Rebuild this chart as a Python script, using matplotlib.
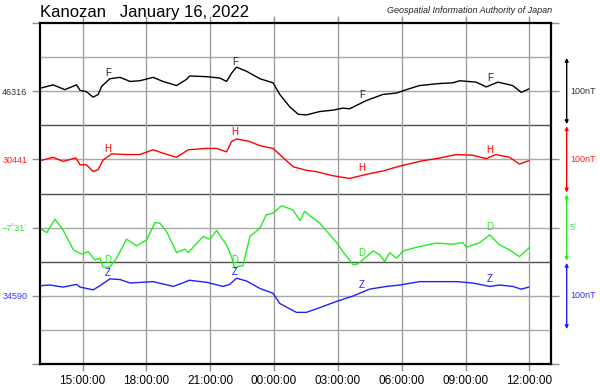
import numpy as np
import matplotlib
matplotlib.use('Agg')
import matplotlib.pyplot as plt
import matplotlib.dates as mdates
from matplotlib.transforms import blended_transform_factory

plt.rcParams['font.family'] = ['Liberation Sans', 'DejaVu Sans']

# ---------------- data ----------------
station = "Kanozan"
date_label = "January 16, 2022"
credit = "Geospatial Information Authority of Japan"
start_time = np.datetime64('2022-01-15T13:00')

# hours since 2022-01-15 13:00
f_hours = [0.00, 0.61, 1.17, 1.72, 1.88, 2.19, 2.50, 2.74, 2.90, 3.29, 3.76, 4.23, 4.69, 5.32,
           5.79, 6.42, 6.89, 7.04, 7.83, 8.45, 8.77, 9.00, 9.23, 9.70, 10.33, 10.95, 11.27,
           11.74, 12.13, 12.52, 13.15, 13.77, 14.24, 14.55, 15.34, 16.12, 16.75, 17.22, 17.84,
           18.78, 19.40, 19.72, 20.50, 20.97, 21.52, 22.22, 22.62, 22.97]
f_nt = [46320, 46325, 46318, 46325, 46317, 46315, 46307, 46311, 46323, 46334, 46336, 46330,
        46331, 46336, 46330, 46324, 46333, 46338, 46337, 46335, 46330, 46342, 46351, 46345,
        46334, 46328, 46311, 46293, 46282, 46281, 46286, 46288, 46291, 46290, 46302, 46311,
        46313, 46318, 46324, 46327, 46328, 46331, 46329, 46322, 46329, 46324, 46314, 46319]

h_hours = [0.00, 0.62, 1.09, 1.69, 1.88, 2.19, 2.50, 2.74, 2.97, 3.37, 4.07, 4.69, 5.32, 5.79,
           6.42, 6.96, 7.83, 8.30, 8.77, 9.00, 9.23, 9.86, 10.33, 10.95, 11.27, 11.90, 12.52,
           12.99, 13.77, 14.55, 15.34, 16.12, 16.90, 17.84, 18.78, 19.56, 20.34, 20.97, 21.44,
           22.07, 22.54, 22.97]
h_nt = [30439, 30444, 30438, 30443, 30433, 30433, 30423, 30426, 30440, 30449, 30448, 30448,
        30455, 30450, 30444, 30455, 30457, 30457, 30452, 30467, 30471, 30467, 30461, 30457,
        30448, 30430, 30425, 30423, 30417, 30413, 30419, 30424, 30431, 30438, 30443, 30448,
        30447, 30442, 30448, 30444, 30434, 30439]

d_hours = [0.00, 0.31, 0.70, 1.09, 1.56, 1.96, 2.27, 2.58, 2.82, 2.97, 3.29, 3.60, 4.07, 4.54,
           5.01, 5.40, 5.63, 5.95, 6.42, 6.81, 6.96, 7.67, 7.98, 8.30, 8.77, 9.00, 9.15, 9.39,
           9.54, 9.86, 10.33, 10.64, 10.95, 11.35, 11.89, 12.21, 12.44, 13.15, 13.93, 14.24,
           14.71, 14.94, 15.26, 15.65, 15.96, 16.20, 16.43, 16.75, 17.06, 17.84, 18.62, 19.40,
           19.87, 20.03, 20.66, 21.13, 21.60, 22.07, 22.54, 22.97]
d_arcmin = [-451.04, -451.36, -450.38, -451.16, -452.63, -452.94, -452.75, -453.36, -453.23,
            -453.89, -453.89, -453.23, -451.84, -452.33, -451.89, -450.63, -450.67, -451.29,
            -452.82, -452.57, -452.82, -451.65, -451.84, -451.21, -452.26, -453.12, -453.96,
            -453.80, -453.80, -451.65, -451.04, -450.06, -449.94, -449.40, -449.70, -450.48,
            -449.82, -450.67, -452.09, -452.75, -453.72, -453.65, -453.23, -452.70, -452.99,
            -453.48, -452.82, -453.23, -452.70, -452.38, -452.13, -452.21, -452.09, -452.43,
            -452.09, -451.53, -452.26, -452.63, -453.12, -452.50]

z_hours = [0.00, 0.47, 1.09, 1.72, 1.88, 2.50, 2.82, 3.29, 3.76, 4.23, 5.32, 6.26, 7.04, 7.83,
           8.60, 8.92, 9.23, 9.70, 10.33, 10.95, 11.27, 12.05, 12.52, 13.15, 13.93, 14.71,
           15.49, 16.28, 16.90, 17.84, 18.78, 19.56, 20.34, 21.13, 21.60, 22.22, 22.62, 22.97]
z_nt = [34605, 34606, 34603, 34607, 34603, 34599, 34605, 34615, 34614, 34609, 34611, 34604,
        34613, 34610, 34604, 34607, 34616, 34612, 34601, 34594, 34579, 34566, 34566, 34573,
        34582, 34590, 34600, 34604, 34606, 34611, 34611, 34611, 34609, 34604, 34606, 34604,
        34600, 34603]

# baseline values shown at the left, and scale-bar sizes
f_base, h_base, z_base = 46316, 30441, 34590
d_base_arcmin = -451          # -7 deg 31 min
nt_bar = 100                  # nT per scale bar
d_bar = 5                     # arcmin per scale bar
label_hours = [3.19, 9.15, 15.14, 21.13]

# ---------------- layout ----------------
W, H = 600, 389
fig = plt.figure(figsize=(W / 100, H / 100), dpi=100)
ax = fig.add_axes([40 / W, 1 - 364.3 / H, 510.7 / W, 341.6 / H])

def to_time(hours):
    return start_time + (np.asarray(hours) * 60).round().astype('timedelta64[m]')

# (times, values, base, value per 2 units, centre unit, colour, letter, text colour)
series = [
    (f_hours, f_nt, f_base, nt_bar, 8, '#000000', 'F', '#333333'),
    (h_hours, h_nt, h_base, nt_bar, 6, '#ff0000', 'H', '#ff2020'),
    (d_hours, d_arcmin, d_base_arcmin, d_bar, 4, '#22ee22', 'D', '#33dd33'),
    (z_hours, z_nt, z_base, nt_bar, 2, '#2020ff', 'Z', '#3333ff'),
]

# horizontal grid
for u in range(1, 10):
    dark = u in (3, 5, 7)
    ax.axhline(u, color='#505050' if dark else '#a8a8a8', lw=1.0, zorder=1)

ax.grid(axis='x', color='#a0a0a0', lw=1.0, zorder=1)

for hrs, vals, base, per2, centre, col, letter, tcol in series:
    t = to_time(hrs)
    y = centre + (np.asarray(vals, float) - base) / per2 * 2
    ax.plot(t, y, color=col, lw=1.0, zorder=3)
    lt = to_time(label_hours)
    ly = np.interp(np.asarray(label_hours), np.asarray(hrs), y)
    for tt, yy in zip(lt, ly):
        ax.annotate(letter, (tt, yy), xytext=(0, 5.5), textcoords='offset points',
                    ha='center', va='center', fontsize=7, color=col if letter != 'F' else '#222222',
                    zorder=4)

ax.set_ylim(0, 10)
ax.set_xlim(to_time(0), to_time(24))
ax.xaxis.set_major_locator(mdates.HourLocator(byhour=range(0, 24, 3)))
ax.xaxis.set_major_formatter(mdates.DateFormatter('%H:%M:%S'))
ax.tick_params(axis='x', direction='out', length=5, width=1, color='#909090',
               top=True, labelsize=8.5, pad=3)

ax.set_yticks([0, 2, 4, 6, 8, 10])
ax.set_yticklabels(['', f'{z_base}', '−7˚31´', f'{h_base}', f'{f_base}', ''])
ax.tick_params(axis='y', direction='out', length=6, width=1, color='#909090',
               right=True, labelsize=6.5, pad=3)
for lab, (_, _, _, _, _, _, _, tcol) in zip(ax.get_yticklabels()[1:5], series[::-1]):
    lab.set_color(tcol)

for sp in ax.spines.values():
    sp.set_linewidth(1.6)
    sp.set_color('black')
    sp.set_zorder(5)

# scale bars at the right
tr = blended_transform_factory(ax.transAxes, ax.transData)
bar_text = {'F': f'{nt_bar}nT', 'H': f'{nt_bar}nT', 'D': f"{d_bar}´", 'Z': f'{nt_bar}nT'}
for hrs, vals, base, per2, centre, col, letter, tcol in series:
    ax.annotate('', xy=(1.0313, centre + 0.97), xytext=(1.0313, centre - 0.97),
                xycoords=tr, textcoords=tr,
                arrowprops=dict(arrowstyle='<|-|>', color=col, lw=1.0,
                                mutation_scale=5, shrinkA=0, shrinkB=0),
                annotation_clip=False)
    ax.text(1.038, centre, bar_text[letter], transform=tr, ha='left', va='center',
            fontsize=6.5, color=tcol, clip_on=False)

fig.text(40 / W, 1 - 12 / H, f"{station}   {date_label}", ha='left', va='center',
         fontsize=12, color='black')
fig.text(552 / W, 1 - 10.5 / H, credit, ha='right', va='center', fontsize=6.5,
         style='italic', color='#222222')

fig.savefig('out.png', dpi=100)
